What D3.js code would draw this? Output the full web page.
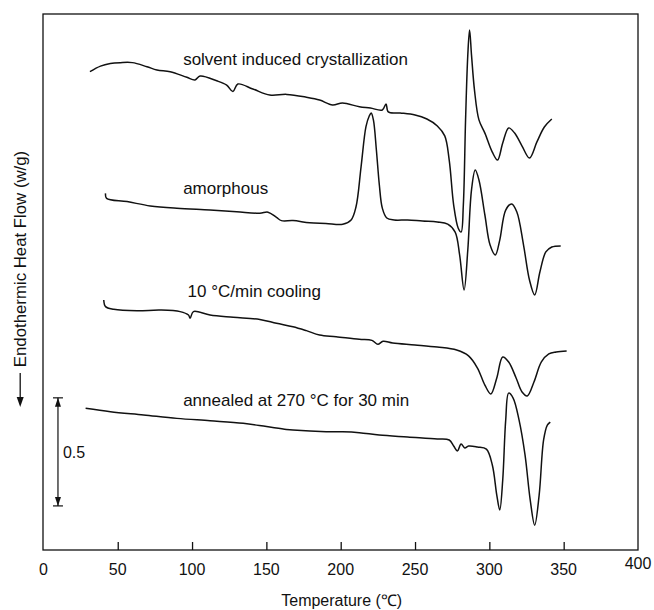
<!DOCTYPE html>
<html>
<head>
<meta charset="utf-8">
<script src="https://cdn.jsdelivr.net/npm/d3@7"></script>
<style>
  html, body { margin: 0; padding: 0; background: #fff; }
  svg { display: block; }
  text { font-family: "Liberation Sans", Arial, Helvetica, sans-serif; fill: #111; }
</style>
</head>
<body>
<svg id="chart" width="654" height="610"></svg>
<script>
// DSC thermograms, heat flow in W/g (each trace carries its own vertical offset)
const tempTicks = [0, 50, 100, 150, 200, 250, 300, 350, 400];

const solventT = [31.3, 38.4, 45, 51.8, 59.8, 69.7, 76.4, 85.3, 96.5, 102, 105.4, 116.6, 123.3, 127.5, 130.8, 140.9, 152.3, 163.7, 176.9, 185.8, 194.5, 201.2, 212.6, 220, 228, 230.5, 232, 240, 250, 258, 265, 270, 273, 276, 279, 281, 282.5, 284, 285.5, 286.7, 288, 290, 293, 297, 302, 305.5, 309, 313, 317, 322, 327, 332, 337, 342];
const solventHF = [2.213, 2.239, 2.251, 2.255, 2.255, 2.236, 2.221, 2.213, 2.187, 2.175, 2.193, 2.171, 2.151, 2.121, 2.156, 2.133, 2.105, 2.108, 2.095, 2.082, 2.059, 2.068, 2.051, 2.045, 2.036, 2.064, 2.027, 2.022, 2.013, 1.994, 1.962, 1.916, 1.804, 1.596, 1.490, 1.471, 1.596, 1.990, 2.290, 2.406, 2.290, 2.128, 1.990, 1.929, 1.841, 1.804, 1.883, 1.953, 1.929, 1.869, 1.814, 1.888, 1.957, 1.994];

const amorphT = [41.8, 42.5, 56.3, 71.9, 89.8, 112.1, 130, 145.6, 151.1, 156.8, 160.1, 167.9, 179.1, 190, 201.4, 207, 210.3, 213.7, 217, 219.2, 220.5, 222, 224, 226, 228, 231, 236, 245, 255, 265, 272, 277, 280, 283, 285.5, 288, 290.5, 293, 297, 300.5, 304, 307, 311, 315, 318.5, 323, 327, 330.5, 334, 338, 342, 348];
const amorphHF = [1.650, 1.627, 1.612, 1.592, 1.581, 1.573, 1.565, 1.558, 1.563, 1.539, 1.524, 1.524, 1.514, 1.511, 1.507, 1.527, 1.588, 1.773, 1.959, 2.008, 2.022, 1.990, 1.851, 1.689, 1.582, 1.536, 1.527, 1.527, 1.522, 1.518, 1.508, 1.471, 1.365, 1.203, 1.388, 1.666, 1.758, 1.712, 1.550, 1.411, 1.365, 1.434, 1.573, 1.601, 1.564, 1.411, 1.249, 1.180, 1.286, 1.379, 1.402, 1.407];

const coolingT = [40.6, 41.8, 47.3, 63, 78.6, 92, 97.6, 98.7, 100.9, 112.1, 127.7, 145.6, 156.8, 167.9, 176.9, 185.8, 196.9, 212.5, 221, 225, 228.5, 235, 250, 265, 278, 286, 292, 297, 301, 305, 309, 313, 318, 322, 325.5, 330, 335, 340, 345, 352];
const coolingHF = [1.157, 1.126, 1.114, 1.107, 1.110, 1.103, 1.087, 1.072, 1.103, 1.087, 1.077, 1.067, 1.049, 1.033, 1.015, 0.995, 0.987, 0.975, 0.970, 0.952, 0.966, 0.958, 0.949, 0.939, 0.925, 0.898, 0.842, 0.763, 0.722, 0.796, 0.893, 0.870, 0.796, 0.731, 0.713, 0.777, 0.870, 0.907, 0.916, 0.921];

const annealT = [28.4, 45.1, 67.4, 89.8, 112.1, 134.4, 150.1, 163.5, 167.9, 190.2, 201.4, 212.5, 225.9, 245, 265, 273, 276, 278.5, 281, 283.5, 286, 292, 298, 302, 305, 307, 309, 311, 313, 316, 320, 324, 327.5, 330.5, 333.5, 336.5, 339, 341];
const annealHF = [0.656, 0.640, 0.625, 0.609, 0.598, 0.586, 0.571, 0.558, 0.555, 0.547, 0.547, 0.543, 0.532, 0.523, 0.514, 0.509, 0.481, 0.458, 0.490, 0.472, 0.481, 0.477, 0.467, 0.393, 0.254, 0.185, 0.324, 0.601, 0.726, 0.703, 0.601, 0.440, 0.231, 0.115, 0.254, 0.509, 0.578, 0.592];

const traceNames = ["solvent induced crystallization", "amorphous", "10 °C/min cooling", "annealed at 270 °C for 30 min"];
const labelT = [94, 94, 97, 94];
const labelHF = [2.244, 1.647, 1.172, 0.665];

// 0.5 W/g scale bar
const scaleBarT = 9.8;
const scaleBarBase = 0.204;
const scaleBarSpan = 0.5;

const svg = d3.select("#chart");
const plot = { left: 43, right: 638, top: 14, bottom: 550 };

const x = d3.scaleLinear().domain([0, 400]).range([plot.left + 0.4, plot.right]);
const y = d3.scaleLinear().domain([0, 2.48]).range([plot.bottom, plot.top]);

// frame
svg.append("rect")
  .attr("x", plot.left).attr("y", plot.top)
  .attr("width", plot.right - plot.left).attr("height", plot.bottom - plot.top)
  .attr("fill", "none").attr("stroke", "#111").attr("stroke-width", 1.3);

// bottom axis: inward ticks, no domain line (the frame draws it)
const xAxis = d3.axisBottom(x).tickValues(tempTicks.slice(1, -1)).tickSize(-8).tickFormat("");
const gx = svg.append("g").attr("transform", `translate(0,${plot.bottom})`).call(xAxis);
gx.select(".domain").remove();
gx.selectAll(".tick line").attr("stroke", "#111").attr("stroke-width", 1.3);

svg.append("g").selectAll("text.tl")
  .data(tempTicks)
  .join("text")
  .attr("class", "tl")
  .attr("x", d => x(d))
  .attr("y", d => d === 400 ? 569 : 575)
  .attr("text-anchor", "middle")
  .attr("font-size", 16)
  .text(d => d);

svg.append("text")
  .attr("x", x(200) + 1)
  .attr("y", 606)
  .attr("text-anchor", "middle")
  .attr("font-size", 16)
  .text("Temperature (℃)");

// vertical axis title with downward arrow
const yTitle = svg.append("g").attr("transform", "translate(26,259) rotate(-90)");
yTitle.append("text")
  .attr("x", 0).attr("y", 0)
  .attr("text-anchor", "middle")
  .attr("font-size", 16.8)
  .text("Endothermic Heat Flow (w/g)");
yTitle.append("line")
  .attr("x1", -114).attr("x2", -142)
  .attr("y1", -5.8).attr("y2", -5.8)
  .attr("stroke", "#111").attr("stroke-width", 1.3);
yTitle.append("path")
  .attr("d", "M-148,-5.8 L-138,-9.3 L-138,-2.3 Z")
  .attr("fill", "#111");

// traces
const line = d3.line().x(d => x(d[0])).y(d => y(d[1])).curve(d3.curveCatmullRom.alpha(0.5));
const traces = [
  d3.zip(solventT, solventHF),
  d3.zip(amorphT, amorphHF),
  d3.zip(coolingT, coolingHF),
  d3.zip(annealT, annealHF)
];
svg.append("g").selectAll("path")
  .data(traces)
  .join("path")
  .attr("d", line)
  .attr("fill", "none")
  .attr("stroke", "#111")
  .attr("stroke-width", 1.5)
  .attr("stroke-linejoin", "round");

svg.append("g").selectAll("text")
  .data(traceNames)
  .join("text")
  .attr("x", (d, i) => x(labelT[i]))
  .attr("y", (d, i) => y(labelHF[i]))
  .attr("font-size", 17)
  .text(d => d);

// scale bar
const bx = x(scaleBarT);
const byTop = y(scaleBarBase + scaleBarSpan);
const byBot = y(scaleBarBase);
const bar = svg.append("g").attr("stroke", "#111").attr("stroke-width", 1.2);
bar.append("line").attr("x1", bx).attr("x2", bx).attr("y1", byTop).attr("y2", byBot);
bar.append("line").attr("x1", bx - 5).attr("x2", bx + 5).attr("y1", byTop).attr("y2", byTop);
bar.append("line").attr("x1", bx - 5).attr("x2", bx + 5).attr("y1", byBot).attr("y2", byBot);
svg.append("path").attr("d", `M${bx},${byTop} l-3,9 l6,0 Z`).attr("fill", "#111");
svg.append("path").attr("d", `M${bx},${byBot} l-3,-9 l6,0 Z`).attr("fill", "#111");
svg.append("text")
  .attr("x", bx + 5)
  .attr("y", (byTop + byBot) / 2 + 6)
  .attr("font-size", 16)
  .text(scaleBarSpan);
</script>
</body>
</html>
